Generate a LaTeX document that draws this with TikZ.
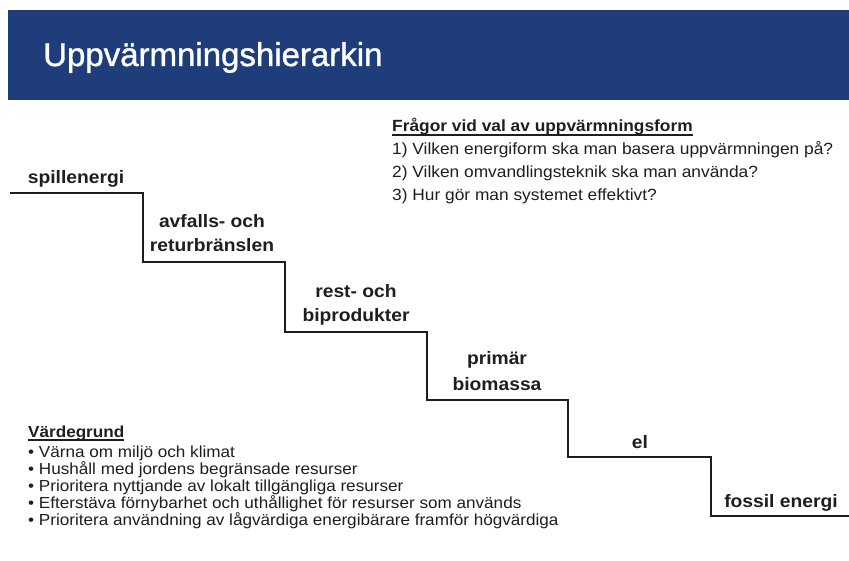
\documentclass[tikz,border=0pt]{standalone}
\usepackage{fontspec}
\setmainfont{Liberation Sans}
\newfontfamily\widefont[FakeStretch=1.07]{Liberation Sans}
\newfontfamily\titlefont[FakeBold=1.2]{Liberation Sans}
\definecolor{banner}{RGB}{30,61,122}
\definecolor{ink}{RGB}{30,30,30}
\begin{document}
\begin{tikzpicture}[x=1pt,y=-1pt,
  stair/.style={draw=ink, line width=2pt, line join=miter},
  lbl/.style={font=\widefont\bfseries\fontsize{18}{24}\selectfont, inner sep=0pt, anchor=base, text=ink},
  qtext/.style={font=\widefont\fontsize{16.2}{23}\selectfont, inner sep=0pt, anchor=base west, text=ink},
  qhead/.style={font=\widefont\bfseries\fontsize{16.2}{23}\selectfont, inner sep=0pt, anchor=base west, text=ink},
  vhead/.style={font=\widefont\bfseries\fontsize{16}{17}\selectfont, inner sep=0pt, anchor=base west, text=ink},
  btext/.style={font=\widefont\fontsize{16}{17}\selectfont, inner sep=0pt, anchor=base west, text=ink},
  uline/.style={draw=ink, line width=1.8pt}]
\useasboundingbox (0,0) rectangle (849,561);
\fill[white] (0,0) rectangle (849,561);
% banner
\fill[banner] (8,10) rectangle (849,100);
\node[anchor=base west, inner sep=0pt, text=white, font=\titlefont\fontsize{33}{40}\selectfont] (title) at (43,66) {Uppvärmningshierarkin};
% stairs
\coordinate (s0) at (10,193);
\coordinate (s1) at (143,193);
\coordinate (s2) at (143,262);
\coordinate (s3) at (285,262);
\coordinate (s4) at (285,332);
\coordinate (s5) at (427,332);
\coordinate (s6) at (427,400);
\coordinate (s7) at (568,400);
\coordinate (s8) at (568,457);
\coordinate (s9) at (711,457);
\coordinate (s10) at (711,516);
\coordinate (s11) at (849,516);
\draw[stair] (s0) -- (s1) -- (s2) -- (s3) -- (s4) -- (s5) -- (s6) -- (s7) -- (s8) -- (s9) -- (s10) -- (s11);
% step labels
\node[lbl] (l1) at (76,184) {spillenergi};
\node[lbl] (l2a) at (212,228) {avfalls- och};
\node[lbl] (l2b) at (212,252) {returbränslen};
\node[lbl] (l3a) at (356,298) {rest- och};
\node[lbl] (l3b) at (356,322) {biprodukter};
\node[lbl] (l4a) at (497,365) {primär};
\node[lbl] (l4b) at (497,390) {biomassa};
\node[lbl] (l5) at (640,448) {el};
\node[lbl] (l6) at (781,507) {fossil energi};
% questions
\node[qhead] (qh) at (392,132) {Frågor vid val av uppvärmningsform};
\draw[uline] ([yshift=-2.8pt]qh.base west) -- ([yshift=-2.8pt]qh.base east);
\node[qtext] (q1) at (392,155) {1) Vilken energiform ska man basera uppvärmningen på?};
\node[qtext] (q2) at (392,178) {2) Vilken omvandlingsteknik ska man använda?};
\node[qtext] (q3) at (392,201) {3) Hur gör man systemet effektivt?};
% value base
\node[vhead] (vh) at (28,437) {Värdegrund};
\draw[uline] ([yshift=-3pt]vh.base west) -- ([yshift=-3pt]vh.base east);
\node[btext] (b1) at (28,457) {• Värna om miljö och klimat};
\node[btext] (b2) at (28,474) {• Hushåll med jordens begränsade resurser};
\node[btext] (b3) at (28,491) {• Prioritera nyttjande av lokalt tillgängliga resurser};
\node[btext] (b4) at (28,508) {• Efterstäva förnybarhet och uthållighet för resurser som används};
\node[btext] (b5) at (28,525) {• Prioritera användning av lågvärdiga energibärare framför högvärdiga};
\end{tikzpicture}
\end{document}
